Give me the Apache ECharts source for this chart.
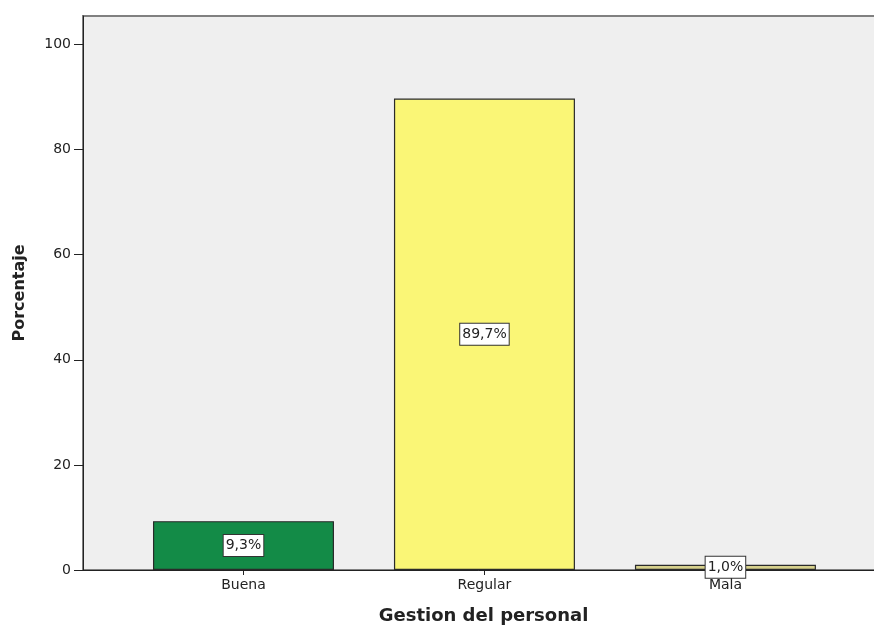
<!DOCTYPE html>
<html>
<head>
<meta charset="utf-8">
<script src="https://cdn.jsdelivr.net/npm/echarts@6/dist/echarts.min.js"></script>
<style>
  html, body { margin: 0; padding: 0; background: #fff; }
  #chart { width: 874px; height: 625px; }
</style>
</head>
<body>
<div id="chart"></div>
<script>
// data
const categories = ['Buena', 'Regular', 'Mala'];
const percentages = [9.3, 89.7, 1.0];
const barColors = ['#138b47', '#faf676', '#d6d08c'];
const yTicks = [0, 20, 40, 60, 80, 100];

const chart = echarts.init(document.getElementById('chart'));

const fontFamily = '"DejaVu Sans", Arial, sans-serif';

const option = {
  animation: false,
  textStyle: { fontFamily: fontFamily },
  grid: {
    left: 83,
    top: 16,
    right: -10,
    bottom: 55,
    outerBoundsMode: 'none',
    containLabel: false,
    show: true,
    backgroundColor: '#efefef',
    borderColor: '#808080',
    borderWidth: 2
  },
  xAxis: {
    type: 'value',
    min: -0.666,
    max: 2.658,
    name: 'Gestion del personal',
    nameLocation: 'middle',
    nameGap: 37,
    nameTextStyle: { fontSize: 18, fontWeight: 'bold', color: '#222', fontFamily: fontFamily },
    splitLine: { show: false },
    axisLine: { show: true, onZero: false, lineStyle: { color: '#222', width: 1 } },
    axisTick: {
      show: true,
      customValues: categories.map((c, i) => i),
      length: 5,
      lineStyle: { color: '#222' }
    },
    axisLabel: {
      customValues: categories.map((c, i) => i),
      formatter: v => categories[Math.round(v)] || '',
      fontSize: 14,
      color: '#222',
      margin: 8
    }
  },
  yAxis: {
    type: 'value',
    min: 0,
    max: 105.42,
    interval: 20,
    name: 'Porcentaje',
    nameLocation: 'middle',
    nameGap: 55,
    nameRotate: 90,
    nameTextStyle: { fontSize: 16, fontWeight: 'bold', color: '#222', fontFamily: fontFamily },
    splitLine: { show: false },
    axisLine: { show: true, onZero: false, lineStyle: { color: '#222', width: 1 } },
    axisTick: { show: true, customValues: yTicks, length: 9, lineStyle: { color: '#222' } },
    axisLabel: {
      customValues: yTicks,
      fontSize: 14,
      color: '#222',
      margin: 12
    }
  },
  series: [
    {
      type: 'bar',
      barWidth: 181,
      data: percentages.map((v, i) => ({
        value: [i, v],
        itemStyle: { color: barColors[i] }
      })),
      itemStyle: { borderColor: '#2a2a2a', borderWidth: 1.2 },
      label: {
        show: true,
        position: 'inside',
        formatter: p => p.value[1].toFixed(1).replace('.', ',') + '%',
        fontSize: 14,
        color: '#222',
        backgroundColor: '#fff',
        borderColor: '#333',
        borderWidth: 1,
        padding: [4, 2, 3, 2]
      }
    }
  ]
};

chart.setOption(option);
</script>
</body>
</html>
